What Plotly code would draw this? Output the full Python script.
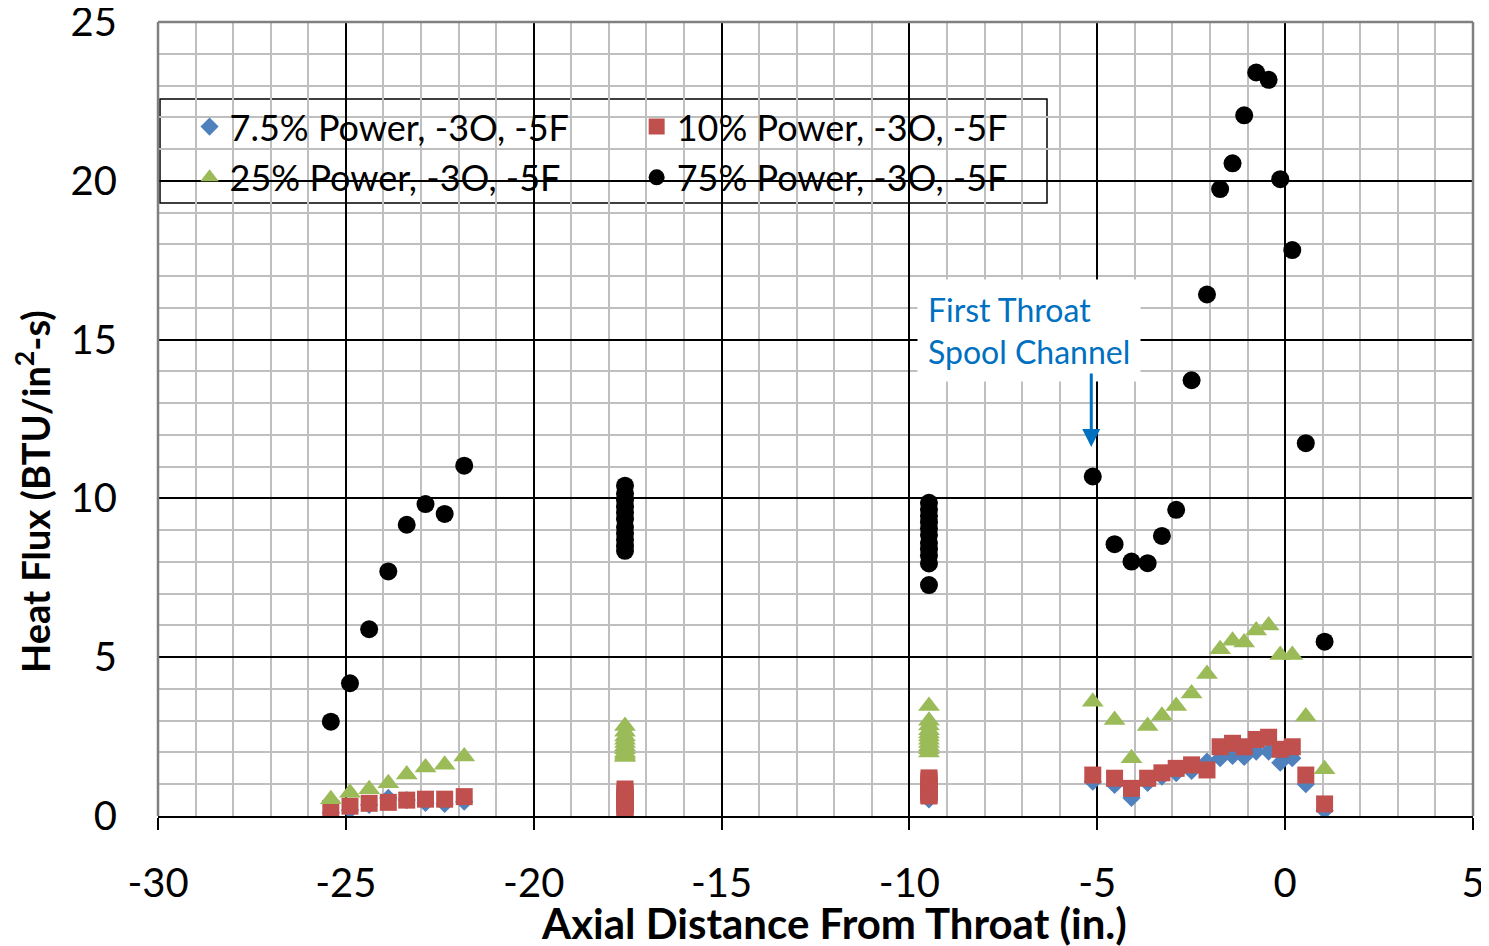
import plotly.graph_objects as go

# ---- data ----
x_a = [-25.40, -24.89, -24.38, -23.87, -23.38, -22.88, -22.37, -21.85]
x_c1 = [-17.57] * 11
x_c2 = [-9.48] * 11
x_t = [-5.12, -4.54, -4.09, -3.66, -3.28, -2.90, -2.49, -2.08, -1.73, -1.40,
       -1.09, -0.77, -0.44, -0.13, 0.19, 0.55, 1.05]

p75_a = [2.97, 4.18, 5.88, 7.70, 9.17, 9.82, 9.51, 11.03]
p75_c1 = [10.40, 10.15, 9.95, 9.75, 9.55, 9.35, 9.10, 8.90, 8.70, 8.50, 8.35]
p75_c2 = [9.86, 9.65, 9.45, 9.25, 9.05, 8.85, 8.60, 8.40, 8.20, 7.95, 7.27]
p75_t = [10.69, 8.56, 8.01, 7.96, 8.82, 9.64, 13.72, 16.42, 19.74, 20.55,
         22.06, 23.41, 23.18, 20.05, 17.82, 11.74, 5.49]

p25_a = [0.53, 0.73, 0.84, 1.03, 1.31, 1.53, 1.61, 1.87]
p25_c1 = [2.83, 2.65, 2.50, 2.40, 2.30, 2.20, 2.10, 2.00, 1.95, 1.90, 1.86]
p25_c2 = [3.46, 3.00, 2.85, 2.70, 2.60, 2.50, 2.40, 2.30, 2.20, 2.10, 2.00]
p25_t = [3.60, 3.02, 1.82, 2.83, 3.16, 3.46, 3.86, 4.47, 5.25, 5.52,
         5.46, 5.84, 6.00, 5.07, 5.07, 3.13, 1.47]

p10_a = [0.24, 0.31, 0.40, 0.43, 0.50, 0.53, 0.53, 0.61]
p10_c1 = [0.85, 0.75, 0.68, 0.60, 0.52, 0.46, 0.40, 0.35, 0.30, 0.27, 0.25]
p10_c2 = [1.20, 1.12, 1.05, 0.98, 0.92, 0.86, 0.80, 0.75, 0.70, 0.66, 0.63]
p10_t = [1.29, 1.19, 0.87, 1.19, 1.36, 1.50, 1.61, 1.45, 2.18, 2.29,
         2.18, 2.41, 2.48, 2.10, 2.18, 1.29, 0.38]

p7_a = [0.10, 0.19, 0.35, 0.57, 0.50, 0.41, 0.38, 0.45]
p7_c1 = [0.75, 0.68, 0.60, 0.52, 0.45, 0.40, 0.34, 0.30, 0.26, 0.22, 0.20]
p7_c2 = [1.10, 1.02, 0.95, 0.88, 0.82, 0.76, 0.70, 0.65, 0.60, 0.55, 0.52]
p7_t = [1.08, 0.98, 0.57, 1.04, 1.24, 1.35, 1.42, 1.71, 1.82, 1.89,
        1.86, 2.03, 2.03, 1.68, 1.82, 1.00, 0.17]

names = ["7.5% Power, -3O, -5F", "10% Power, -3O, -5F",
         "25% Power, -3O, -5F", "75% Power, -3O, -5F"]

x_ticks = [-30, -25, -20, -15, -10, -5, 0, 5]
x_tick_text = ["-30", "-25", "-20", "-15", "-10", "-5", "0", "5"]

xs = x_a + x_c1 + x_c2 + x_t

FONT = "Lato"

fig = go.Figure()
fig.add_trace(go.Scatter(x=xs, y=p7_a + p7_c1 + p7_c2 + p7_t, mode="markers", name=names[0],
                         marker=dict(symbol="diamond", size=14, color="#4F81BD"),
                         legend="legend", legendgroup="a"))
fig.add_trace(go.Scatter(x=xs, y=p10_a + p10_c1 + p10_c2 + p10_t, mode="markers", name=names[1],
                         marker=dict(symbol="square", size=17, color="#C0504D"),
                         legend="legend2", legendgroup="b"))
fig.add_trace(go.Scatter(x=xs, y=p25_a + p25_c1 + p25_c2 + p25_t, mode="markers", name=names[2],
                         marker=dict(symbol="triangle-up", size=19, color="#9BBB59"),
                         legend="legend", legendgroup="c"))
fig.add_trace(go.Scatter(x=xs, y=p75_a + p75_c1 + p75_c2 + p75_t, mode="markers", name=names[3],
                         marker=dict(symbol="circle", size=18, color="black"),
                         legend="legend2", legendgroup="d"))

legend_common = dict(bgcolor="rgba(0,0,0,0)", borderwidth=0, font=dict(family=FONT, size=36, color="black"),
                     tracegroupgap=1, xanchor="left", yanchor="top", itemsizing="trace")
fig.update_layout(
    legend=dict(x=0.024, y=0.906, **legend_common),
    legend2=dict(x=0.364, y=0.906, **legend_common),
)

# legend frame
fig.add_shape(type="rect", xref="paper", yref="paper",
              x0=(160 - 158) / 1315, x1=(1047 - 158) / 1315,
              y0=(816 - 203) / 794, y1=(816 - 99) / 794,
              line=dict(color="black", width=1.5), fillcolor="white", layer="between")

# gray plot-area border (left, top, right)
for (x0, y0, x1, y1) in [(0, 0, 0, 1), (0, 1, 1, 1), (1, 0, 1, 1)]:
    fig.add_shape(type="line", xref="paper", yref="paper", x0=x0, y0=y0, x1=x1, y1=y1,
                  line=dict(color="#808080", width=2.5), layer="above")

# annotation text
fig.add_annotation(x=-9.8, y=15.3, xref="x", yref="y", xanchor="left", yanchor="middle",
                   text="First Throat<br>Spool Channel", showarrow=False, align="left",
                   font=dict(family=FONT, size=32, color="#0070C0"), bgcolor="white",
                   borderpad=10)
# arrow
fig.add_annotation(x=-5.16, y=11.62, ax=-5.16, ay=13.98, xref="x", yref="y",
                   axref="x", ayref="y", text="", showarrow=True, arrowhead=2,
                   arrowsize=1.2, arrowwidth=3, arrowcolor="#0070C0")

# axis titles
fig.add_annotation(x=(834 - 158) / 1315, y=(816 - 923) / 794, xref="paper", yref="paper",
                   xanchor="center", yanchor="middle", showarrow=False,
                   text="<b>Axial Distance From Throat (in.)</b>",
                   font=dict(family=FONT, size=42, color="black"))
fig.add_annotation(x=(33 - 158) / 1315, y=(816 - 492) / 794, xref="paper", yref="paper",
                   xanchor="center", yanchor="middle", showarrow=False, textangle=-90,
                   text="<b>Heat Flux (BTU/in<sup>2</sup>-s)</b>",
                   font=dict(family=FONT, size=38, color="black"))

fig.update_xaxes(range=[-30, 5], tickmode="array", tickvals=x_ticks, ticktext=x_tick_text,
                 showgrid=True, gridcolor="black", gridwidth=1.5,
                 minor=dict(dtick=1, tick0=0, showgrid=True, gridcolor="#BFBFBF", gridwidth=1.5),
                 ticks="outside", ticklen=12, tickcolor="black", tickwidth=1.5,
                 showline=True, linecolor="black", linewidth=2, zeroline=False,
                 ticklabelstandoff=19, automargin=False, ticklabeloverflow="allow",
                 tickfont=dict(family=FONT, size=40, color="black"))
fig.update_yaxes(range=[0, 25], tickmode="linear", tick0=0, dtick=5,
                 showgrid=True, gridcolor="black", gridwidth=1.5,
                 minor=dict(dtick=1, tick0=0, showgrid=True, gridcolor="#BFBFBF", gridwidth=1.5),
                 ticks="", showline=False, zeroline=False,
                 ticklabelstandoff=40, automargin=False, ticklabeloverflow="allow",
                 tickfont=dict(family=FONT, size=40, color="black"))

# page body has an 8px margin, so the figure is offset by 8px
fig.update_layout(width=1481, height=938, margin=dict(l=150, r=16, t=14, b=130, autoexpand=False),
                  plot_bgcolor="white", paper_bgcolor="white", showlegend=True)

fig.write_html("out.html")
